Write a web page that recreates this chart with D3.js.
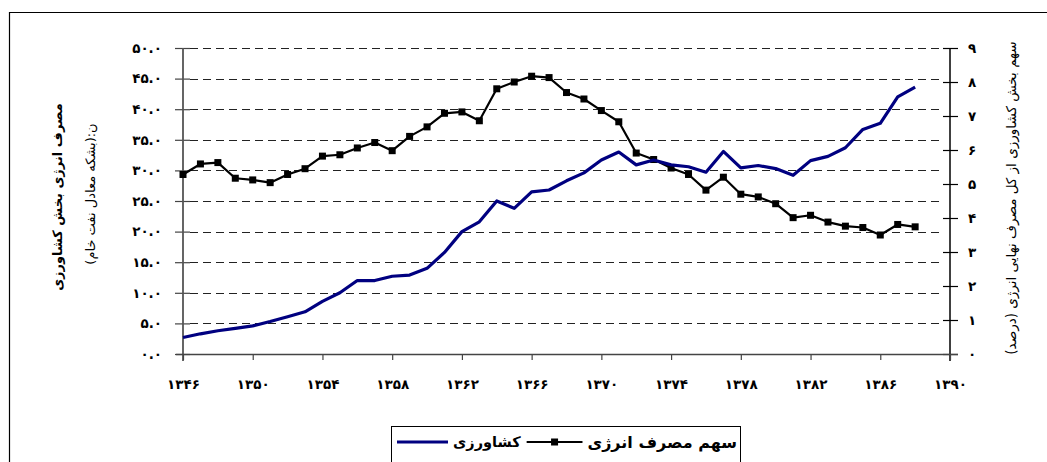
<!DOCTYPE html>
<html><head><meta charset="utf-8">
<script src="https://cdn.jsdelivr.net/npm/d3@7"></script>
<style>
html,body{margin:0;padding:0;background:#fff;}
svg{display:block;font-family:"DejaVu Sans",sans-serif;}
</style></head>
<body>
<svg id="c" width="1047" height="462"></svg>
<script>
const years = [1346,1347,1348,1349,1350,1351,1352,1353,1354,1355,1356,1357,1358,1359,1360,1361,1362,1363,1364,1365,1366,1367,1368,1369,1370,1371,1372,1373,1374,1375,1376,1377,1378,1379,1380,1381,1382,1383,1384,1385,1386,1387,1388];
const consumption = [2.7,3.3,3.8,4.2,4.6,5.3,6.1,6.9,8.6,10.0,12.0,12.0,12.7,12.9,14.0,16.6,20.0,21.6,25.0,23.8,26.5,26.8,28.3,29.6,31.7,33.0,30.9,31.7,30.9,30.6,29.7,33.1,30.4,30.8,30.3,29.2,31.6,32.3,33.7,36.7,37.7,42.0,43.6];
const share = [5.28,5.59,5.63,5.17,5.12,5.04,5.28,5.45,5.82,5.86,6.06,6.22,5.98,6.40,6.68,7.08,7.12,6.86,7.80,8.00,8.17,8.13,7.69,7.50,7.16,6.83,5.91,5.72,5.47,5.28,4.82,5.20,4.70,4.62,4.42,4.01,4.08,3.88,3.76,3.72,3.50,3.81,3.74];
const xTicks = [1346,1350,1354,1358,1362,1366,1370,1374,1378,1382,1386,1390];
const leftTicks = [0,5,10,15,20,25,30,35,40,45,50];
const rightTicks = [0,1,2,3,4,5,6,7,8,9];
const leftTitle1 = "مصرف انرژی بخش کشاورزی";
const leftTitle2 = "ن:(بشکه معادل نفت خام)";
const rightTitle = "سهم بخش کشاورزی از کل مصرف نهایی انرژی (درصد)";
const seriesNames = ["کشاورزی","سهم مصرف انرژی"];

const fa = s => String(s).replace(/[0-9]/g, d => "۰۱۲۳۴۵۶۷۸۹"[+d]);

const svg = d3.select("#c");
svg.append("path").attr("d","M9.5,462 L9.5,12.5 L1047,12.5").attr("fill","none").attr("stroke","#000").attr("stroke-width",1.2);

const x = d3.scaleLinear().domain([1346,1390]).range([183,950]);
const yL = d3.scaleLinear().domain([0,50]).range([354,48]);
const yR = d3.scaleLinear().domain([0,9]).range([354,48]);

svg.append("g").selectAll("line").data(leftTicks.filter(d=>d>0)).join("line")
  .attr("x1",190).attr("x2",943)
  .attr("y1",d=>Math.round(yL(d))+0.5).attr("y2",d=>Math.round(yL(d))+0.5)
  .attr("stroke","#222").attr("stroke-width",1).attr("stroke-dasharray","8,5");

const tickFont = sel => sel.attr("font-size",13.5).attr("font-weight","bold").attr("font-family","DejaVu Sans").attr("fill","#000");

const gl = svg.append("g").attr("transform","translate(183,0)")
  .call(d3.axisLeft(yL).tickValues(leftTicks).tickSize(8).tickPadding(13).tickFormat(d=>fa(d3.format(".1f")(d))));
gl.select(".domain").remove();
gl.selectAll(".tick line").attr("x1",7).attr("stroke","#444").attr("stroke-width",1.2);
gl.selectAll(".tick text").call(tickFont);
gl.append("line").attr("x1",0).attr("x2",0).attr("y1",48).attr("y2",361).attr("stroke","#555").attr("stroke-width",1.8);

const gr = svg.append("g").attr("transform","translate(950,0)")
  .call(d3.axisRight(yR).tickValues(rightTicks).tickSize(8).tickPadding(14).tickFormat(d=>fa(d)));
gr.select(".domain").remove();
gr.selectAll(".tick line").attr("x1",-7).attr("stroke","#000").attr("stroke-width",1.2);
gr.selectAll(".tick text").attr("text-anchor","middle").attr("x",22).call(tickFont);
gr.append("line").attr("x1",0).attr("x2",0).attr("y1",48).attr("y2",361).attr("stroke","#000").attr("stroke-width",1.5);

const gb = svg.append("g").attr("transform","translate(0,354)")
  .call(d3.axisBottom(x).tickValues(xTicks).tickSize(6).tickPadding(19).tickFormat(d=>fa(d)));
gb.select(".domain").remove();
gb.selectAll(".tick line").attr("stroke","#444").attr("stroke-width",1.2);
gb.selectAll(".tick text").call(tickFont);
gb.append("line").attr("x1",176).attr("x2",958).attr("y1",0.5).attr("y2",0.5).attr("stroke","#444").attr("stroke-width",1.5);

const lineL = d3.line().x((d,i)=>x(years[i])).y(d=>yL(d));
const lineR = d3.line().x((d,i)=>x(years[i])).y(d=>yR(d));
svg.append("path").datum(share).attr("d",lineR).attr("fill","none").attr("stroke","#000").attr("stroke-width",2.2).attr("stroke-linejoin","round");
svg.append("g").selectAll("rect").data(share).join("rect")
  .attr("x",(d,i)=>x(years[i])-3.5).attr("y",d=>yR(d)-3.5).attr("width",7).attr("height",7).attr("fill","#000");
svg.append("path").datum(consumption).attr("d",lineL).attr("fill","none").attr("stroke","#000080").attr("stroke-width",3.2).attr("stroke-linejoin","round");

svg.append("text").attr("transform","translate(62,197) rotate(-90)").attr("text-anchor","middle")
  .attr("font-size",13).attr("font-weight","bold").text(leftTitle1);
svg.append("text").attr("transform","translate(95,194) rotate(-90)").attr("text-anchor","middle")
  .attr("font-size",13).text(leftTitle2);
svg.append("text").attr("transform","translate(1016,198) rotate(-90)").attr("text-anchor","middle")
  .attr("font-size",13.5).text(rightTitle);

// legend
const lg = svg.append("g");
lg.append("rect").attr("x",391.5).attr("y",426.5).attr("width",349).attr("height",60).attr("fill","#fff").attr("stroke","#000").attr("stroke-width",1);
lg.append("line").attr("x1",397).attr("x2",448).attr("y1",442).attr("y2",442).attr("stroke","#000080").attr("stroke-width",3.2);
const t1 = lg.append("text").attr("x",453).attr("y",447).attr("font-size",14.5).attr("font-weight","bold").text(seriesNames[0]);
const w1 = t1.node().getComputedTextLength();
const bx = 453 + w1 + 6;
const t2 = lg.append("text").attr("y",448).attr("font-size",16).attr("font-weight","bold").text(seriesNames[1]);
const w2 = t2.node().getComputedTextLength();
t2.attr("x", 737 - w2);
const ex = 737 - w2 - 5;
lg.append("line").attr("x1",bx).attr("x2",ex).attr("y1",442).attr("y2",442).attr("stroke","#000").attr("stroke-width",2.2);
lg.append("rect").attr("x",(bx+ex)/2-3.5).attr("y",438.5).attr("width",7).attr("height",7).attr("fill","#000");
</script>
</body></html>
